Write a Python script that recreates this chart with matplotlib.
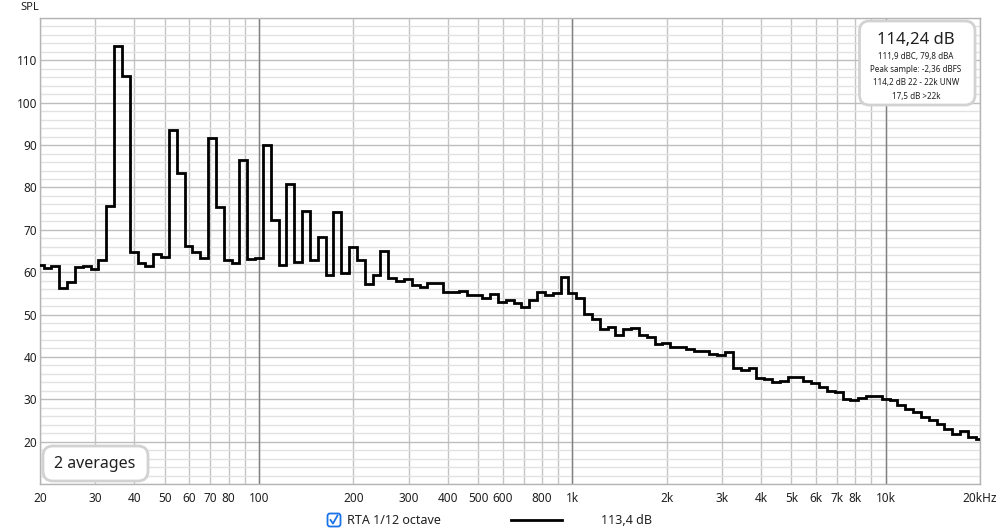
import numpy as np
import matplotlib
matplotlib.use("Agg")
import matplotlib.pyplot as plt
from matplotlib.patches import FancyBboxPatch
from matplotlib.lines import Line2D

plt.rcParams['font.family'] = ['Noto Sans', 'DejaVu Sans']

# 1/12 octave RTA bands, base-10 centres 1000*10^(k/40), k = -68 .. 52
band_index = list(range(-68, 53))
levels = [
    61.7, 61.0, 61.5, 56.3, 57.8, 61.2, 61.4, 60.8, 62.9, 75.7,
    113.4, 106.3, 64.8, 62.1, 61.5, 64.2, 63.7, 93.5, 83.5, 66.2,
    64.8, 63.3, 91.6, 75.4, 62.9, 62.1, 86.4, 63.1, 63.3, 90.0,
    72.4, 61.7, 80.9, 62.3, 74.4, 62.9, 68.3, 59.3, 74.2, 59.7,
    66.0, 62.9, 57.3, 59.3, 64.9, 58.7, 57.9, 58.4, 56.9, 56.6,
    57.5, 57.4, 55.3, 55.4, 55.6, 54.5, 54.5, 54.0, 54.8, 53.0,
    53.5, 52.7, 51.7, 53.5, 55.3, 54.5, 55.2, 58.8, 55.2, 53.8,
    50.1, 49.0, 46.5, 47.1, 45.2, 46.7, 46.8, 45.2, 44.7, 43.0,
    43.4, 42.4, 42.4, 41.8, 41.4, 41.4, 40.6, 40.5, 41.1, 37.4,
    37.0, 37.5, 35.1, 34.8, 34.1, 34.3, 35.3, 35.3, 34.4, 33.8,
    33.0, 32.0, 31.8, 30.0, 29.9, 30.2, 30.7, 30.8, 30.1, 29.9,
    28.7, 27.8, 27.1, 25.8, 25.2, 24.2, 23.0, 21.9, 22.4, 21.2,
    20.7,
]

x_ticks = [20, 30, 40, 50, 60, 70, 80, 90, 100, 200, 300, 400, 500, 600, 700,
           800, 900, 1000, 2000, 3000, 4000, 5000, 6000, 7000, 8000, 9000,
           10000, 20000]
x_labels = ['20', '30', '40', '50', '60', '70', '80', '', '100', '200', '300',
            '400', '500', '600', '', '800', '', '1k', '2k', '3k', '4k', '5k',
            '6k', '7k', '8k', '', '10k', '20kHz']
y_ticks = [20, 30, 40, 50, 60, 70, 80, 90, 100, 110]

info_main = "114,24 dB"
info_lines = ["111,9 dBC, 79,8 dBA", "Peak sample: -2,36 dBFS",
              "114,2 dB 22 - 22k UNW", "17,5 dB >22k"]

# band edges from the centre index
k = np.array(band_index)
edges = 1000 * 10 ** ((np.append(k, k[-1] + 1) - 0.5) / 40)

fig = plt.figure(figsize=(10, 5.31), dpi=100)
ax = fig.add_axes([0.04, 1 - 484 / 531, 0.94, 466 / 531])

ax.stairs(levels, edges, baseline=None, color='black', lw=2.0, zorder=5)

ax.set_xscale('log')
ax.set_xlim(20, 20000)
ax.set_ylim(10, 120)

ax.set_xticks(x_ticks)
ax.set_xticklabels(x_labels)
ax.xaxis.set_minor_locator(matplotlib.ticker.NullLocator())
ax.set_yticks(y_ticks)
ax.set_yticks(np.arange(10, 121, 2), minor=True)
ax.tick_params(which='both', length=0, labelsize=8.5, colors='#202020')
ax.tick_params(axis='x', pad=6)
ax.tick_params(axis='y', pad=2)

ax.grid(which='minor', axis='y', color='#e2e2e2', lw=1.0)
ax.grid(which='major', axis='y', color='#bdbdbd', lw=1.0)
ax.grid(which='major', axis='x', color='#c4c4c4', lw=1.0)
for d in [100, 1000, 10000]:
    ax.axvline(d, color='#808080', lw=1.0, zorder=1)
ax.set_axisbelow(True)
for s in ax.spines.values():
    s.set_color('#b4b4b4')
    s.set_linewidth(1.0)

fig.text(20 / 1000, 1 - 8 / 531, 'SPL', fontsize=8, va='center', ha='left', color='#202020')

# info box top right
fig.add_artist(FancyBboxPatch((8.595, (531 - 105) / 100), 1.155, 0.84,
                              boxstyle='round,pad=0,rounding_size=0.1',
                              transform=fig.dpi_scale_trans, facecolor='white',
                              edgecolor='#d2d2d2', lw=2.0, zorder=10))
fig.text(916 / 1000, 1 - 40 / 531, info_main, fontsize=12, ha='center', va='center',
         color='#202020', zorder=11)
for i, line in enumerate(info_lines):
    fig.text(916 / 1000, 1 - (57 + 13 * i) / 531, line, fontsize=5.8, ha='center',
             va='center', color='#202020', zorder=11)

# averages box bottom left
fig.add_artist(FancyBboxPatch((0.43, (531 - 481) / 100), 1.05, 0.35,
                              boxstyle='round,pad=0,rounding_size=0.1',
                              transform=fig.dpi_scale_trans, facecolor='white',
                              edgecolor='#d2d2d2', lw=2.0, zorder=10))
fig.text(95 / 1000, 1 - 464 / 531, '2 averages', fontsize=11.5, ha='center',
         va='center', color='#202020', zorder=11)

# legend row
fig.add_artist(FancyBboxPatch((3.275, (531 - 526.5) / 100), 0.13, 0.13,
                              boxstyle='round,pad=0,rounding_size=0.025',
                              transform=fig.dpi_scale_trans, facecolor='white',
                              edgecolor='#1a73e8', lw=1.3))
fig.add_artist(Line2D([3.305, 3.33, 3.375], [(531 - 520) / 100, (531 - 523.5) / 100,
                      (531 - 515.5) / 100], transform=fig.dpi_scale_trans,
                      color='#1a73e8', lw=1.3))
fig.text(347 / 1000, 1 - 520 / 531, 'RTA 1/12 octave', fontsize=9, ha='left',
         va='center', color='#202020')
fig.add_artist(Line2D([511 / 1000, 562 / 1000], [1 - 520 / 531, 1 - 520 / 531],
                      transform=fig.transFigure, color='black', lw=2.0))
fig.text(601 / 1000, 1 - 520 / 531, '113,4 dB', fontsize=9, ha='left',
         va='center', color='#202020')

fig.savefig('out.png', dpi=100)
